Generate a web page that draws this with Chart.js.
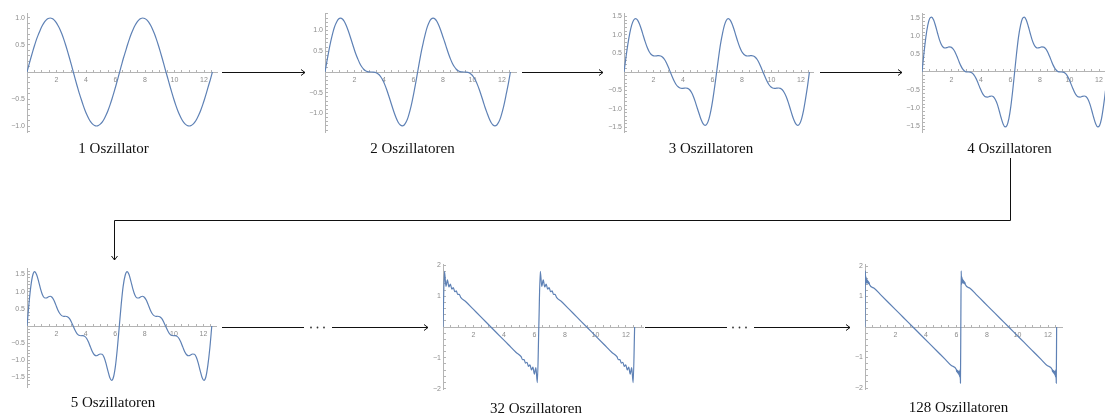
<!DOCTYPE html>
<html>
<head>
<meta charset="utf-8">
<script src="https://cdn.jsdelivr.net/npm/chart.js@4.4.1/dist/chart.umd.min.js"></script>
<style>
  html, body { margin: 0; padding: 0; background: #fff; }
  #page { position: relative; width: 1105px; height: 414px; overflow: hidden; }
  #page canvas { position: absolute; }
  .label {
    position: absolute; width: 200px; text-align: center;
    font-family: "Liberation Serif", serif; font-size: 15px; line-height: 18px; color: #111;
  }
  #arrows { position: absolute; left: 0; top: 0; }
</style>
</head>
<body>
<div id="page">
  <svg id="arrows" width="1105" height="414">
    <g stroke="#111" stroke-width="1" fill="none">
      <line x1="222" y1="72.5" x2="305" y2="72.5"/>
      <polyline points="301,69.5 305,72.5 301,75.5"/>
      <line x1="522" y1="72.5" x2="603" y2="72.5"/>
      <polyline points="599,69.5 603,72.5 599,75.5"/>
      <line x1="820" y1="72.5" x2="902" y2="72.5"/>
      <polyline points="898,69.5 902,72.5 898,75.5"/>
      <polyline points="1010.5,158 1010.5,220.5 114.5,220.5 114.5,260"/>
      <polyline points="111.5,256 114.5,260 117.5,256"/>
      <line x1="222" y1="327.5" x2="304" y2="327.5"/>
      <line x1="332" y1="327.5" x2="428" y2="327.5"/>
      <polyline points="424,324.5 428,327.5 424,330.5"/>
      <line x1="645" y1="327.5" x2="727" y2="327.5"/>
      <line x1="754" y1="327.5" x2="850" y2="327.5"/>
      <polyline points="846,324.5 850,327.5 846,330.5"/>
    </g>
    <g fill="#333">
      <circle cx="311" cy="327.5" r="0.9"/><circle cx="317.5" cy="327.5" r="0.9"/><circle cx="324" cy="327.5" r="0.9"/>
      <circle cx="733" cy="327.5" r="0.9"/><circle cx="739.5" cy="327.5" r="0.9"/><circle cx="746" cy="327.5" r="0.9"/>
    </g>
  </svg>
</div>
<script>
// sample positions (x in rad) for the 1..5 oscillator plots
const xGrid = [
  0, 0.13, 0.26, 0.39, 0.52, 0.65, 0.79, 0.92, 1.05, 1.18, 1.31, 1.44, 1.57, 1.70, 1.83, 1.96, 2.09, 2.23, 2.36, 2.49, 2.62, 2.75, 2.88, 3.01, 3.14,
  3.27, 3.40, 3.53, 3.67, 3.80, 3.93, 4.06, 4.19, 4.32, 4.45, 4.58, 4.71, 4.84, 4.97, 5.11, 5.24, 5.37, 5.50, 5.63, 5.76, 5.89, 6.02, 6.15, 6.28,
  6.41, 6.54, 6.68, 6.81, 6.94, 7.07, 7.20, 7.33, 7.46, 7.59, 7.72, 7.85, 7.98, 8.12, 8.25, 8.38, 8.51, 8.64, 8.77, 8.90, 9.03, 9.16, 9.29, 9.42,
  9.56, 9.69, 9.82, 9.95, 10.08, 10.21, 10.34, 10.47, 10.60, 10.73, 10.86, 11.00, 11.13, 11.26, 11.39, 11.52, 11.65, 11.78, 11.91, 12.04, 12.17, 12.30, 12.44, 12.57
];
const osc1 = [
  0, .131, .259, .383, .5, .609, .707, .793, .866, .924, .966, .991, 1, .991, .966, .924, .866, .793, .707, .609, .5, .383, .259, .131, 0,
  -.131, -.259, -.383, -.5, -.609, -.707, -.793, -.866, -.924, -.966, -.991, -1, -.991, -.966, -.924, -.866, -.793, -.707, -.609, -.5, -.383, -.259, -.131, 0,
  .131, .259, .383, .5, .609, .707, .793, .866, .924, .966, .991, 1, .991, .966, .924, .866, .793, .707, .609, .5, .383, .259, .131, 0,
  -.131, -.259, -.383, -.5, -.609, -.707, -.793, -.866, -.924, -.966, -.991, -1, -.991, -.966, -.924, -.866, -.793, -.707, -.609, -.5, -.383, -.259, -.131, 0
];
const osc2 = [
  0, .260, .509, .736, .933, 1.092, 1.207, 1.276, 1.299, 1.278, 1.216, 1.121, 1.0, .862, .716, .571, .433, .310, .207, .126, .067, .029, .009, .001, 0,
  -.001, -.009, -.029, -.067, -.126, -.207, -.310, -.433, -.571, -.716, -.862, -1.0, -1.121, -1.216, -1.278, -1.299, -1.276, -1.207, -1.092, -.933, -.736, -.509, -.260, 0,
  .260, .509, .736, .933, 1.092, 1.207, 1.276, 1.299, 1.278, 1.216, 1.121, 1.0, .862, .716, .571, .433, .310, .207, .126, .067, .029, .009, .001, 0,
  -.001, -.009, -.029, -.067, -.126, -.207, -.310, -.433, -.571, -.716, -.862, -1.0, -1.121, -1.216, -1.278, -1.299, -1.276, -1.207, -1.092, -.933, -.736, -.509, -.260, 0
];
const osc3 = [
  0, .388, .745, 1.044, 1.266, 1.400, 1.443, 1.404, 1.299, 1.150, .980, .813, .667, .554, .480, .443, .433, .438, .443, .434, .400, .337, .245, .129, 0,
  -.129, -.245, -.337, -.400, -.434, -.443, -.438, -.433, -.443, -.480, -.554, -.667, -.813, -.980, -1.150, -1.299, -1.404, -1.443, -1.400, -1.266, -1.044, -.745, -.388, 0,
  .388, .745, 1.044, 1.266, 1.400, 1.443, 1.404, 1.299, 1.150, .980, .813, .667, .554, .480, .443, .433, .438, .443, .434, .400, .337, .245, .129, 0,
  -.129, -.245, -.337, -.400, -.434, -.443, -.438, -.433, -.443, -.480, -.554, -.667, -.813, -.980, -1.150, -1.299, -1.404, -1.443, -1.400, -1.266, -1.044, -.745, -.388, 0
];
const osc4 = [
  0, .513, .962, 1.294, 1.483, 1.525, 1.443, 1.279, 1.083, .900, .764, .688, .667, .679, .697, .693, .650, .563, .443, .309, .184, .087, .029, .004, 0,
  -.004, -.029, -.087, -.184, -.309, -.443, -.563, -.650, -.693, -.697, -.679, -.667, -.688, -.764, -.900, -1.083, -1.279, -1.443, -1.525, -1.483, -1.294, -.962, -.513, 0,
  .513, .962, 1.294, 1.483, 1.525, 1.443, 1.279, 1.083, .900, .764, .688, .667, .679, .697, .693, .650, .563, .443, .309, .184, .087, .029, .004, 0,
  -.004, -.029, -.087, -.184, -.309, -.443, -.563, -.650, -.693, -.697, -.679, -.667, -.688, -.764, -.900, -1.083, -1.279, -1.443, -1.525, -1.483, -1.294, -.962, -.513, 0
];
const osc5 = [
  0, .634, 1.155, 1.479, 1.583, 1.499, 1.302, 1.081, .910, .823, .816, .847, .867, .838, .749, .616, .477, .365, .302, .283, .284, .272, .222, .126, 0,
  -.126, -.222, -.272, -.284, -.283, -.302, -.365, -.477, -.616, -.749, -.838, -.867, -.847, -.816, -.823, -.910, -1.081, -1.302, -1.499, -1.583, -1.479, -1.155, -.634, 0,
  .634, 1.155, 1.479, 1.583, 1.499, 1.302, 1.081, .910, .823, .816, .847, .867, .838, .749, .616, .477, .365, .302, .283, .284, .272, .222, .126, 0,
  -.126, -.222, -.272, -.284, -.283, -.302, -.365, -.477, -.616, -.749, -.838, -.867, -.847, -.816, -.823, -.910, -1.081, -1.302, -1.499, -1.583, -1.479, -1.155, -.634, 0
];

// 32 oscillators: ripple peaks near the jumps, straight ramp in between
const x32 = [
  0, .097, .193, .290, .387, .483, .580, .677, .773, .870, .967, 1.063, 1.160, 1.5, 2.0, 2.5, 3.14, 3.78, 4.28, 4.78,
  5.123, 5.220, 5.316, 5.413, 5.510, 5.606, 5.703, 5.800, 5.896, 5.993, 6.090, 6.186, 6.283,
  6.380, 6.476, 6.573, 6.670, 6.766, 6.863, 6.960, 7.056, 7.153, 7.250, 7.346, 7.443, 7.783, 8.283, 8.783, 9.425, 10.063, 10.563, 11.063,
  11.406, 11.503, 11.599, 11.696, 11.793, 11.889, 11.986, 12.083, 12.179, 12.276, 12.373, 12.469, 12.566
];
const osc32 = [
  0, 1.804, 1.321, 1.530, 1.299, 1.392, 1.228, 1.278, 1.144, 1.172, 1.056, 1.063, .964, .821, .571, .321, 0, -.319, -.569, -.819,
  -.964, -1.063, -1.056, -1.172, -1.144, -1.278, -1.228, -1.392, -1.299, -1.530, -1.321, -1.804, 0,
  1.804, 1.321, 1.530, 1.299, 1.392, 1.228, 1.278, 1.144, 1.172, 1.056, 1.063, .964, .821, .571, .321, 0, -.319, -.569, -.819,
  -.964, -1.063, -1.056, -1.172, -1.144, -1.278, -1.228, -1.392, -1.299, -1.530, -1.321, -1.804, 0
];

// 128 oscillators
const x128 = [
  0, .0245, .0489, .0733, .0978, .1222, .1467, .171, .196, .220, .2445, .269, .293,
  0.6, 1.0, 1.5, 2.0, 2.5, 3.142, 3.78, 4.28, 4.78, 5.28, 5.683,
  5.990, 6.014, 6.039, 6.063, 6.087, 6.112, 6.137, 6.161, 6.185, 6.210, 6.234, 6.259, 6.283,
  6.308, 6.332, 6.357, 6.381, 6.405, 6.430, 6.454, 6.479, 6.503, 6.528, 6.552, 6.576,
  6.883, 7.283, 7.783, 8.283, 8.783, 9.425, 10.063, 10.563, 11.063, 11.563, 11.966,
  12.273, 12.297, 12.322, 12.346, 12.370, 12.395, 12.420, 12.444, 12.468, 12.493, 12.517, 12.542, 12.566
];
const osc128 = [
  0, 1.840, 1.394, 1.638, 1.443, 1.573, 1.445, 1.530, 1.433, 1.497, 1.417, 1.461, 1.397,
  1.271, 1.071, .821, .571, .321, 0, -.319, -.569, -.819, -1.069, -1.271,
  -1.397, -1.461, -1.417, -1.497, -1.433, -1.530, -1.445, -1.573, -1.443, -1.638, -1.394, -1.840, 0,
  1.840, 1.394, 1.638, 1.443, 1.573, 1.445, 1.530, 1.433, 1.497, 1.417, 1.461, 1.397,
  1.271, 1.071, .821, .571, .321, 0, -.319, -.569, -.819, -1.069, -1.271,
  -1.397, -1.461, -1.417, -1.497, -1.433, -1.530, -1.445, -1.573, -1.443, -1.638, -1.394, -1.840, 0
];

// tick labels
const xTickLabels = [2, 4, 6, 8, 10, 12];
const yTickLabelsHalf = [-1.5, -1, -0.5, 0.5, 1, 1.5];
const yTickLabelsWhole = [-2, -1, 1, 2];
const captions = ["1 Oszillator", "2 Oszillatoren", "3 Oszillatoren", "4 Oszillatoren",
                  "5 Oszillatoren", "32 Oszillatoren", "128 Oszillatoren"];

// layout of each panel (pixels)
const panels = [
  { x: xGrid, y: osc1, x0: 27, xs: 14.75, right: 217, y0: 72, ys: 54, top: 13, bottom: 132, minor: 0.1, cap: [113.5, 148] },
  { x: xGrid, y: osc2, x0: 325, xs: 14.75, right: 516, y0: 72, ys: 41.5, top: 13, bottom: 132, minor: 0.1, cap: [412.5, 148] },
  { x: xGrid, y: osc3, x0: 624, xs: 14.75, right: 813, y0: 72, ys: 37, top: 13, bottom: 132, minor: 0.1, cap: [711, 148] },
  { x: xGrid, y: osc4, x0: 922, xs: 14.75, right: 1105, y0: 72, ys: 36, top: 13, bottom: 132, minor: 0.1, cap: [1009.5, 148] },
  { x: xGrid, y: osc5, x0: 27, xs: 14.7, right: 216, y0: 326, ys: 34.3, top: 268, bottom: 387, minor: 0.1, cap: [113, 402] },
  { x: x32, y: osc32, x0: 443, xs: 15.25, right: 643, y0: 327, ys: 30.8, top: 264, bottom: 389, minor: 0.2, cap: [536, 408] },
  { x: x128, y: osc128, x0: 865, xs: 15.25, right: 1062, y0: 327, ys: 30.5, top: 264, bottom: 389, minor: 0.2, cap: [958.5, 407] }
];

const page = document.getElementById("page");
const lineBlue = "#5e81b5";
const axisGray = "#b4b4b4";
const tickFont = { size: 7, family: "Liberation Sans" };

function near(v, list) {
  return list.some((t) => Math.abs(t - v) < 1e-6);
}

function plot(p, caption) {
  const axisW = 26, pad = 12;
  const W = p.right - p.x0, H = p.bottom - p.top;
  const canvas = document.createElement("canvas");
  canvas.width = W + axisW + pad;
  canvas.height = H + 2 * pad;
  canvas.style.left = p.x0 - axisW + "px";
  canvas.style.top = p.top - pad + "px";
  page.appendChild(canvas);

  const whole = p.minor > 0.15;
  const yLabels = whole ? yTickLabelsWhole : yTickLabelsHalf;

  new Chart(canvas, {
    type: "line",
    data: {
      datasets: [
        {
          data: p.x.map((x, i) => ({ x: x, y: p.y[i] })),
          borderColor: lineBlue,
          borderWidth: 1.2,
          pointRadius: 0,
          cubicInterpolationMode: "monotone",
          fill: false,
        },
      ],
    },
    options: {
      responsive: false,
      animation: false,
      events: [],
      layout: { padding: { left: 0, right: pad, top: pad, bottom: pad } },
      plugins: { legend: { display: false }, tooltip: { enabled: false } },
      scales: {
        x: {
          type: "linear",
          position: { y: 0 },
          min: 0,
          max: W / p.xs,
          border: { display: true, color: axisGray, width: 1 },
          grid: { drawOnChartArea: false, drawTicks: true, tickLength: -3, color: axisGray },
          ticks: {
            stepSize: 0.5,
            autoSkip: false,
            includeBounds: false,
            maxRotation: 0,
            padding: 7,
            color: "#8c8c8c",
            font: tickFont,
            callback: (v) => (near(v, xTickLabels) ? String(v) : ""),
          },
        },
        y: {
          type: "linear",
          position: "left",
          min: -(p.bottom - p.y0) / p.ys,
          max: (p.y0 - p.top) / p.ys,
          afterFit: (s) => {
            s.width = axisW;
          },
          border: { display: true, color: axisGray, width: 1 },
          grid: { drawOnChartArea: false, drawTicks: true, tickLength: -3, color: axisGray },
          ticks: {
            stepSize: p.minor,
            autoSkip: false,
            includeBounds: false,
            padding: 5,
            color: "#8c8c8c",
            font: tickFont,
            callback: (v) => {
              if (!near(v, yLabels)) return "";
              const s = whole ? Math.abs(v).toFixed(0) : Math.abs(v).toFixed(1);
              return v < 0 ? "\u2212" + s : s;
            },
          },
        },
      },
    },
  });

  const div = document.createElement("div");
  div.className = "label";
  div.textContent = caption;
  div.style.left = p.cap[0] - 100 + "px";
  div.style.top = p.cap[1] - 9 + "px";
  page.appendChild(div);
}

panels.forEach((p, i) => plot(p, captions[i]));
</script>
</body>
</html>
